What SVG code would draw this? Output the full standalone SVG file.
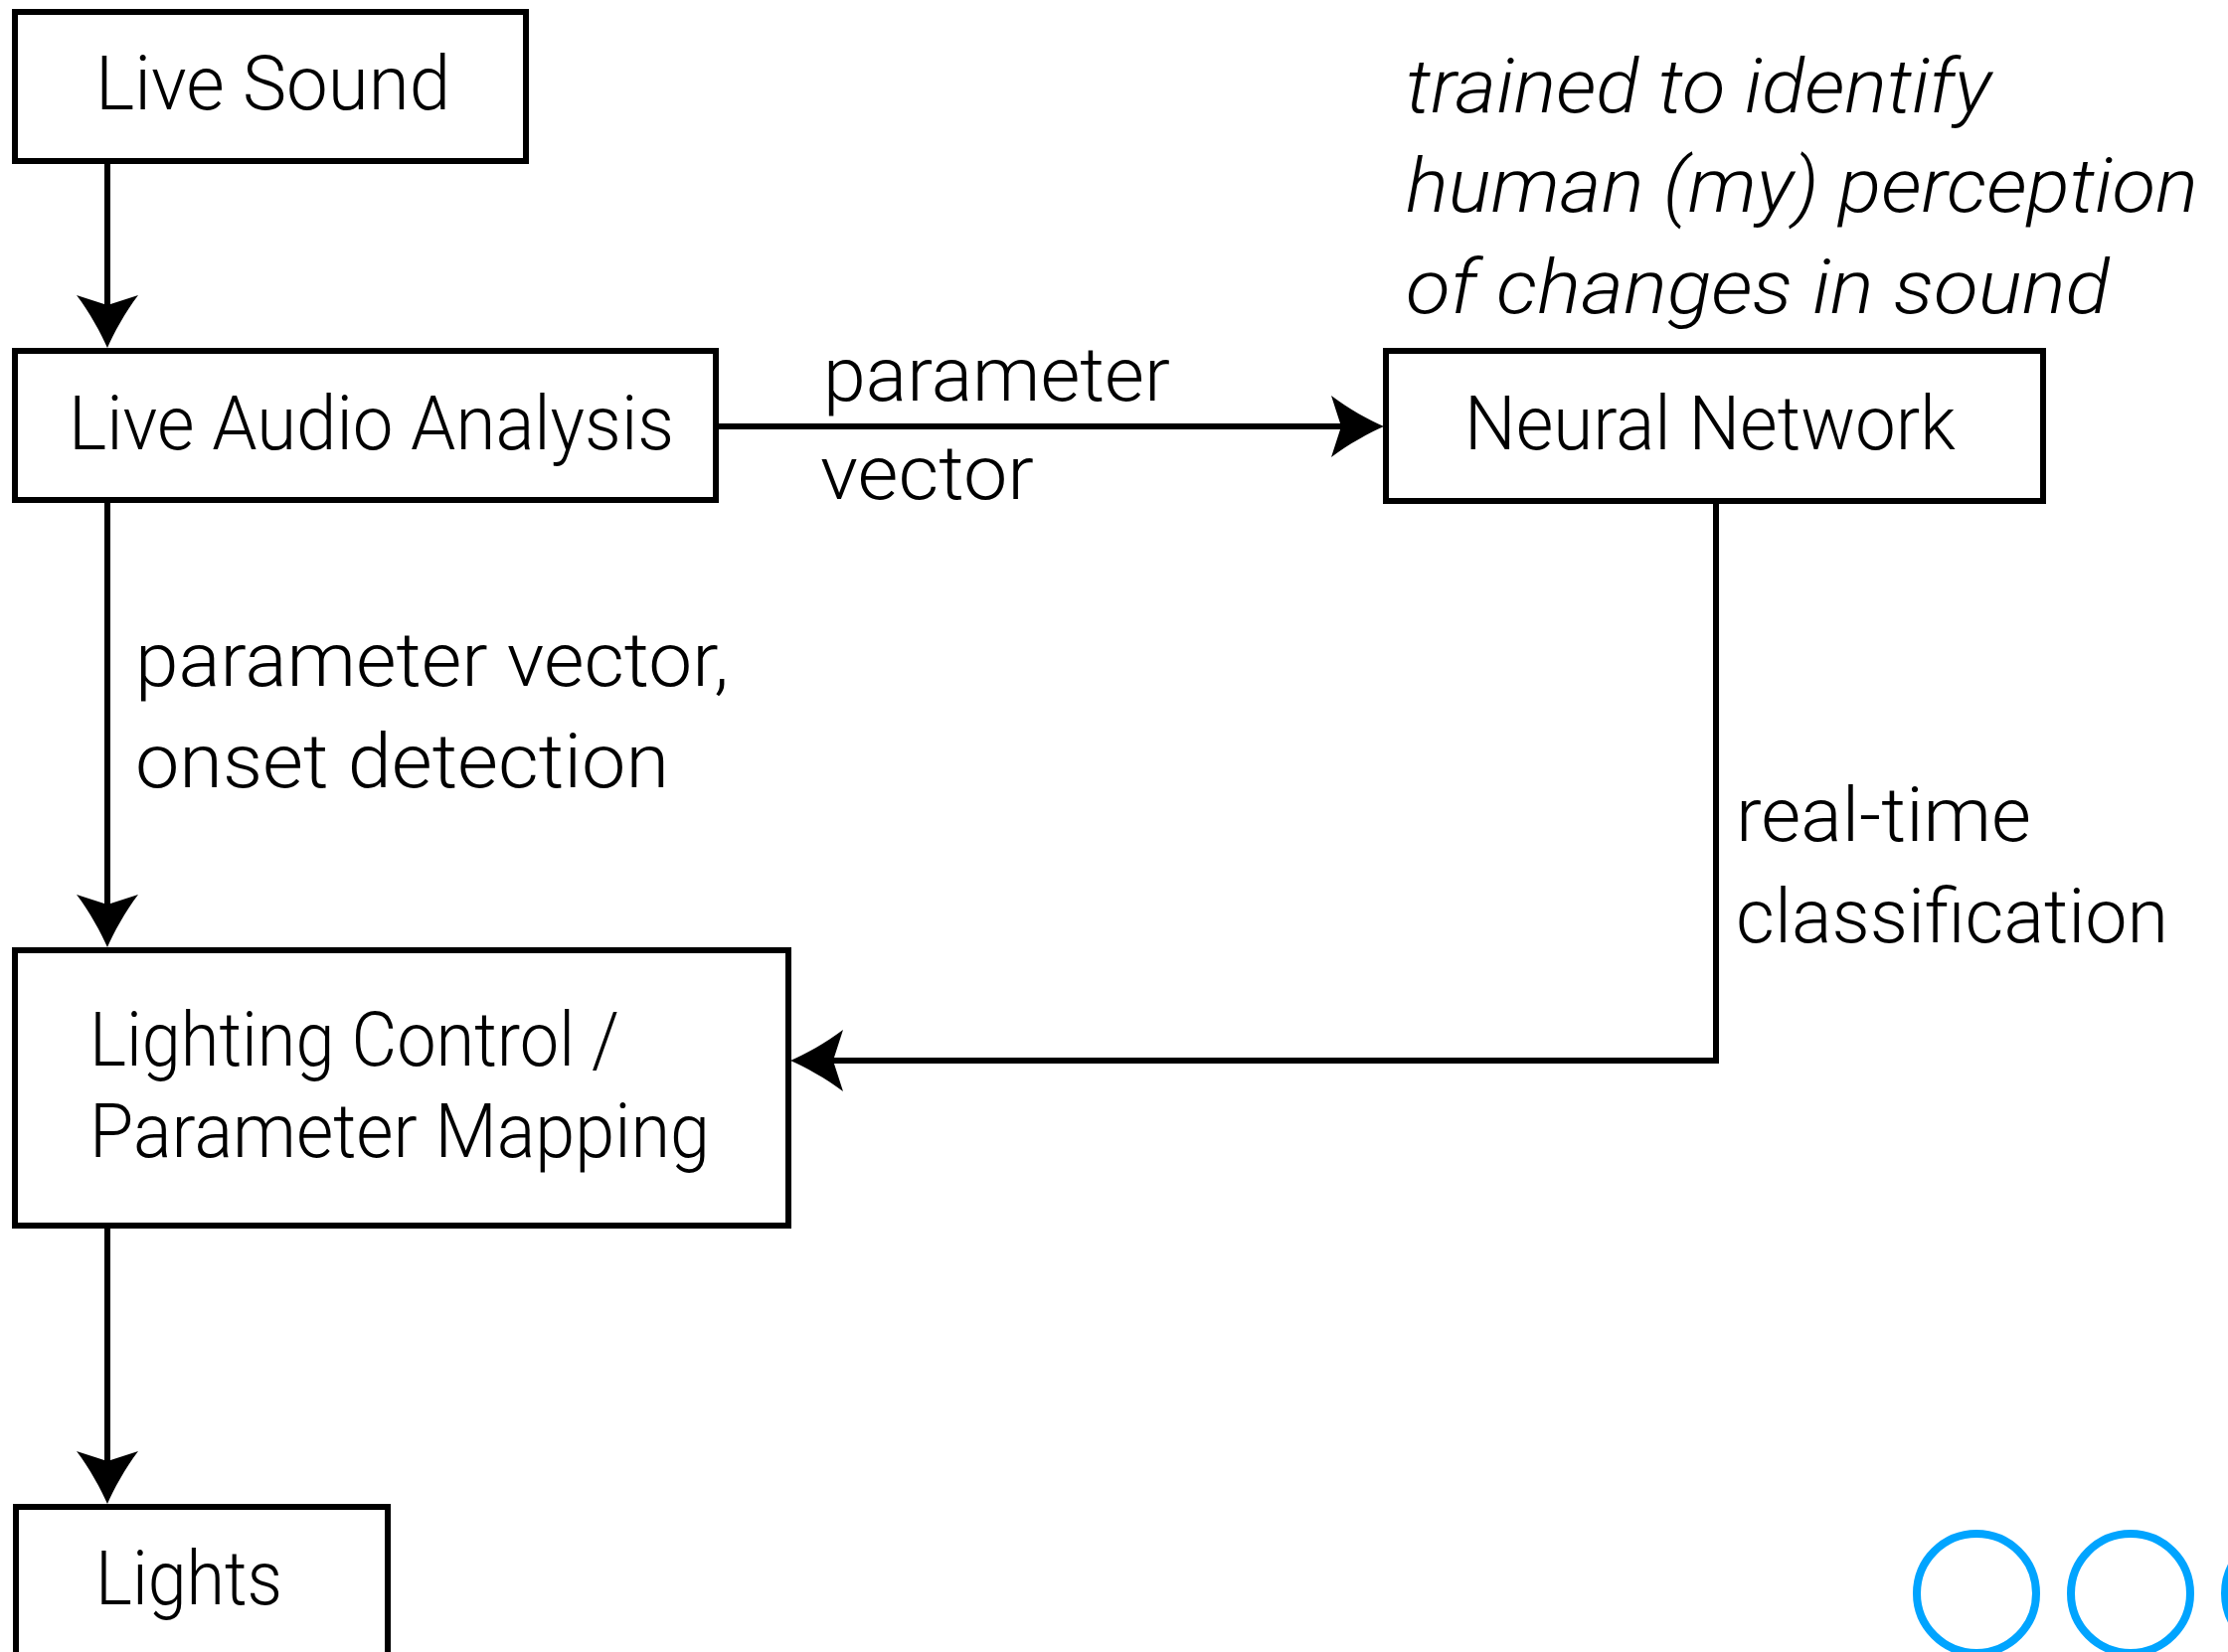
<svg xmlns="http://www.w3.org/2000/svg" width="2241" height="1662" viewBox="0 0 2241 1662">
  <style>
    .box { fill: #ffffff; stroke: #000000; stroke-width: 6; }
    .lbl { font-family: Roboto, "Liberation Sans", sans-serif; font-weight: 300; font-size: 76px; fill: #000000; }
    .it { font-style: italic; }
    .conn { fill: none; stroke: #000000; stroke-width: 6; stroke-linejoin: miter; }
    .dot { fill: none; stroke: #00A4FF; stroke-width: 8; }
  </style>
  <defs>
    <marker id="ah" markerUnits="userSpaceOnUse" viewBox="-60 -35 70 70" markerWidth="70" markerHeight="70" refX="-38" refY="0" orient="auto" overflow="visible">
      <path d="M0,0 C-14,-6 -36,-18 -53,-31 L-43,0 L-53,31 C-36,18 -14,6 0,0 Z" fill="#000000"/>
    </marker>
  </defs>
  <rect width="2241" height="1662" fill="#ffffff"/>

  <g id="connectors">
    <line class="conn" x1="108" y1="162" x2="108" y2="312" marker-end="url(#ah)"/>
    <line class="conn" x1="108" y1="503" x2="108" y2="915" marker-end="url(#ah)"/>
    <line class="conn" x1="108" y1="1233" x2="108" y2="1475" marker-end="url(#ah)"/>
    <line class="conn" x1="720" y1="429" x2="1354" y2="429" marker-end="url(#ah)"/>
    <polyline class="conn" points="1726,504 1726,1067 833,1067" marker-end="url(#ah)"/>
    <text class="lbl" x="828" y="403" textLength="349" lengthAdjust="spacingAndGlyphs">parameter</text>
    <text class="lbl" x="825" y="502" textLength="215" lengthAdjust="spacingAndGlyphs">vector</text>
    <text class="lbl" x="136" y="690" textLength="597" lengthAdjust="spacingAndGlyphs">parameter vector,</text>
    <text class="lbl" x="136" y="792" textLength="537" lengthAdjust="spacingAndGlyphs">onset detection</text>
    <text class="lbl" x="1746" y="846" textLength="297" lengthAdjust="spacingAndGlyphs">real-time</text>
    <text class="lbl" x="1746" y="948" textLength="435" lengthAdjust="spacingAndGlyphs">classification</text>
  </g>

  <g id="live-sound">
    <rect class="box" x="15" y="12" width="514" height="150"/>
    <text class="lbl" x="96" y="110" textLength="357" lengthAdjust="spacingAndGlyphs">Live Sound</text>
  </g>

  <g id="live-audio-analysis">
    <rect class="box" x="15" y="353" width="705" height="150"/>
    <text class="lbl" x="69" y="452" textLength="609" lengthAdjust="spacingAndGlyphs">Live Audio Analysis</text>
  </g>

  <g id="neural-network">
    <rect class="box" x="1394" y="353" width="661" height="151"/>
    <text class="lbl" x="1473" y="452" textLength="494" lengthAdjust="spacingAndGlyphs">Neural Network</text>
  </g>

  <g id="nn-note">
    <text class="lbl it" x="1414" y="113" textLength="589" lengthAdjust="spacingAndGlyphs">trained to identify</text>
    <text class="lbl it" x="1414" y="213" textLength="797" lengthAdjust="spacingAndGlyphs">human (my) perception</text>
    <text class="lbl it" x="1414" y="315" textLength="708" lengthAdjust="spacingAndGlyphs">of changes in sound</text>
  </g>

  <g id="lighting-control">
    <rect class="box" x="15" y="956" width="778" height="277"/>
    <text class="lbl" x="90" y="1072" textLength="533" lengthAdjust="spacingAndGlyphs">Lighting Control /</text>
    <text class="lbl" x="90" y="1164" textLength="624" lengthAdjust="spacingAndGlyphs">Parameter Mapping</text>
  </g>

  <g id="lights">
    <rect class="box" x="16" y="1516" width="374" height="200"/>
    <text class="lbl" x="96" y="1614" textLength="188" lengthAdjust="spacingAndGlyphs">Lights</text>
  </g>

  <g id="page-dots">
    <circle class="dot" cx="1988" cy="1603" r="60"/>
    <circle class="dot" cx="2143" cy="1603" r="60"/>
    <circle class="dot" cx="2298" cy="1603" r="60"/>
  </g>
</svg>
